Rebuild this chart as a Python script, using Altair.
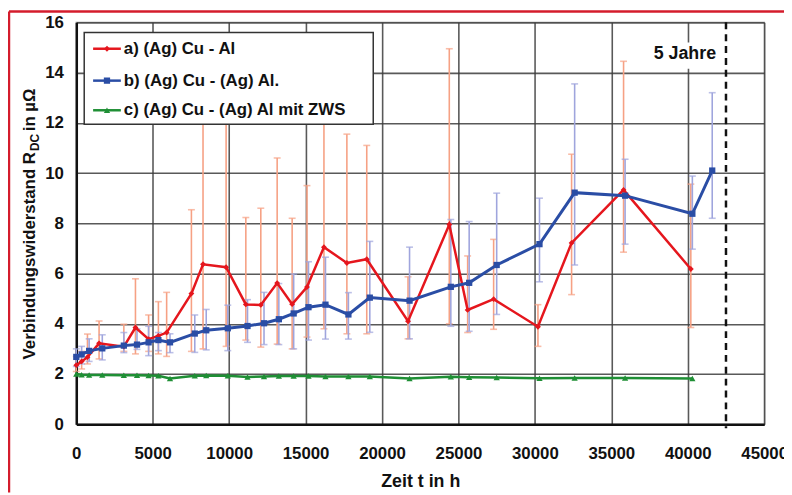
import altair as alt
import pandas as pd

# ---------------- data ----------------
# a) (Ag) Cu - Al
a_t  = [0, 350, 730, 1490, 3110, 3870, 4730, 5370, 5910, 7530, 8290, 9800, 11090, 12070,
        13140, 14120, 15090, 16200, 17700, 19000, 21700, 24400, 25600, 27300, 30200,
        32400, 35800, 40200]
a_r  = [2.35, 2.5, 2.67, 3.22, 3.09, 3.85, 3.39, 3.52, 3.65, 5.2, 6.37, 6.25, 4.77, 4.75,
        5.62, 4.78, 5.46, 7.05, 6.42, 6.57, 4.1, 7.95, 4.55, 4.98, 3.88, 7.22, 9.33, 6.18]
a_hi = [2.7, 2.9, 3.59, 4.11, 3.98, 5.79, 4.35, 4.88, 5.25, 8.54, 13.5, 14.0, 8.23, 8.6,
        10.6, 8.2, 9.5, 13.0, 11.55, 11.1, 5.87, 14.95, 6.7, 7.36, 4.76, 10.75, 14.45, 9.56]
a_lo = [2.1, 2.2, 2.4, 2.6, 2.9, 2.8, 2.9, 2.8, 2.7, 2.9, 3.0, 3.1, 3.35, 3.07,
        3.19, 3.0, 3.47, 3.8, 3.6, 3.6, 3.4, 4.0, 3.65, 3.78, 3.1, 5.16, 6.85, 3.85]

# b) (Ag) Cu - (Ag) Al.
b_t  = [0, 350, 840, 1700, 3110, 3970, 4730, 5370, 6130, 7750, 8500, 9910, 11200, 12280,
        13250, 14220, 15190, 16300, 17800, 19200, 21800, 24500, 25700, 27500, 30300,
        32600, 35900, 40300, 41600]
b_r  = [2.68, 2.78, 2.92, 3.02, 3.13, 3.17, 3.26, 3.35, 3.26, 3.61, 3.74, 3.82, 3.91, 4.02,
        4.18, 4.41, 4.66, 4.76, 4.37, 5.04, 4.92, 5.47, 5.63, 6.34, 7.17, 9.22, 9.1, 8.38, 10.1]
b_hi = [3.0, 3.1, 3.4, 3.56, 3.65, 3.8, 3.9, 3.65, 3.6, 4.35, 4.57, 4.74, 4.96, 5.25,
        5.6, 5.98, 6.47, 6.65, 5.24, 7.28, 7.05, 8.15, 8.07, 9.2, 9.0, 13.55, 10.55, 9.88, 13.2]
b_lo = [2.3, 2.4, 2.5, 2.56, 2.85, 2.98, 2.73, 2.93, 2.85, 2.86, 2.96, 2.93, 3.26, 3.17,
        3.17, 3.0, 3.35, 3.39, 3.39, 3.66, 3.4, 3.9, 3.7, 4.37, 5.67, 6.34, 7.17, 6.97, 8.2]

# c) (Ag) Cu - (Ag) Al mit ZWS
c_t  = [0, 350, 840, 1700, 3110, 3970, 4730, 5370, 6130, 7750, 8500, 9910, 11200, 12280,
        13250, 14220, 15190, 16300, 17800, 19200, 21800, 24500, 25700, 27500, 30300,
        32600, 35900, 40300]
c_r  = [2.0, 1.97, 1.96, 1.96, 1.95, 1.95, 1.94, 1.93, 1.82, 1.93, 1.94, 1.93, 1.88, 1.9,
        1.92, 1.92, 1.92, 1.9, 1.9, 1.9, 1.82, 1.89, 1.87, 1.86, 1.83, 1.84, 1.84, 1.82]

legend_labels = ["a) (Ag) Cu - Al", "b) (Ag) Cu - (Ag) Al.", "c) (Ag) Cu - (Ag) Al mit ZWS"]
x_ticks = [0, 5000, 10000, 15000, 20000, 25000, 30000, 35000, 40000, 45000]
y_ticks = [0, 2, 4, 6, 8, 10, 12, 14, 16]
five_years_h = 42500
five_years_label = "5 Jahre"
x_title = "Zeit t in h"
y_title_main = "Verbindungswiderstand R"
y_title_sub = "DC"
y_title_end = " in µΩ"

# ---------------- styling ----------------
RED, RED_ERR = "#e5161d", "#f6a184"
BLUE, BLUE_ERR = "#2a4da5", "#9fa5dd"
GREEN = "#1f8f35"
FONT = "Liberation Sans"
W, H = 695, 406

xs = alt.Scale(domain=[0, 45000], nice=False, zero=False)
ys = alt.Scale(domain=[0, 16], nice=False)
x_axis = alt.Axis(values=x_ticks, format="d", title=x_title, grid=True, ticks=False,
                  labelPadding=22, titlePadding=11, labelFlush=False)
y_axis = alt.Axis(values=y_ticks, format="d", title="", grid=True, ticks=False,
                  labelPadding=13)


def X(f):
    return alt.X(f"{f}:Q", scale=xs, axis=x_axis)


def Y(f):
    return alt.Y(f"{f}:Q", scale=ys, axis=y_axis)


df_a = pd.DataFrame({"t": a_t, "r": a_r, "hi": a_hi, "lo": a_lo})
df_b = pd.DataFrame({"t": b_t, "r": b_r, "hi": b_hi, "lo": b_lo})
df_c = pd.DataFrame({"t": c_t, "r": c_r})


def errbars(df, col):
    rule = alt.Chart(df).mark_rule(color=col, strokeWidth=1.6).encode(
        x=X("t"), y=Y("lo"), y2="hi:Q")
    cap_hi = alt.Chart(df).mark_tick(color=col, orient="horizontal", size=7, thickness=1.6).encode(
        x=X("t"), y=Y("hi"))
    cap_lo = alt.Chart(df).mark_tick(color=col, orient="horizontal", size=7, thickness=1.6).encode(
        x=X("t"), y=Y("lo"))
    return [rule, cap_hi, cap_lo]


def series(df, col, shape, size, sw):
    line = alt.Chart(df).mark_line(color=col, strokeWidth=sw).encode(x=X("t"), y=Y("r"))
    pts = alt.Chart(df).mark_point(shape=shape, filled=True, color=col, size=size, opacity=1).encode(
        x=X("t"), y=Y("r"))
    return [line, pts]


# five-year marker
df_5 = pd.DataFrame({"t": [five_years_h]})
dash = alt.Chart(df_5).mark_rule(color="#111", strokeWidth=2.5, strokeDash=[7, 5]).encode(
    x=X("t"), y=alt.value(0), y2=alt.value(H + 4))
df_5box = pd.DataFrame({"x1": [37400], "x2": [42100], "y1": [14.15], "y2": [15.2]})
box5 = alt.Chart(df_5box).mark_rect(fill="white").encode(
    x=X("x1"), x2="x2:Q", y=Y("y1"), y2="y2:Q")
df_5txt = pd.DataFrame({"t": [41850], "r": [14.74], "lab": [five_years_label]})
txt5 = alt.Chart(df_5txt).mark_text(align="right", baseline="middle", font=FONT, fontSize=18,
                                    fontWeight="bold", color="#111").encode(
    x=X("t"), y=Y("r"), text="lab:N")

# legend (drawn in the plot's own coordinates)
df_legbox = pd.DataFrame({"x1": [518], "x2": [19425], "y1": [11.94], "y2": [15.6]})
legbox = alt.Chart(df_legbox).mark_rect(fill="white", stroke="#333", strokeWidth=1.5).encode(
    x=X("x1"), x2="x2:Q", y=Y("y1"), y2="y2:Q")
df_leg = pd.DataFrame({
    "lab": legend_labels,
    "ly": [14.95, 13.68, 12.5],
    "x1": [1100] * 3, "x2": [2914] * 3, "xm": [2007] * 3, "xt": [3108] * 3,
    "col": [RED, BLUE, GREEN],
    "shp": ["diamond", "square", "triangle-up"],
    "sz": [35, 40, 40],
})
leg_line = alt.Chart(df_leg).mark_rule(strokeWidth=2.5).encode(
    x=X("x1"), x2="x2:Q", y=Y("ly"), color=alt.Color("col:N", scale=None))
leg_pt = alt.Chart(df_leg).mark_point(filled=True, opacity=1).encode(
    x=X("xm"), y=Y("ly"), color=alt.Color("col:N", scale=None),
    shape=alt.Shape("shp:N", scale=None), size=alt.Size("sz:Q", scale=None))
leg_txt = alt.Chart(df_leg).mark_text(align="left", baseline="middle", font=FONT, fontSize=17,
                                      fontWeight="bold", color="#111").encode(
    x=X("xt"), y=Y("ly"), text="lab:N")

# y-axis title with subscript
one = pd.DataFrame({"k": [0]})
yt1 = alt.Chart(one).mark_text(angle=270, align="right", baseline="alphabetic", font=FONT,
                               fontSize=17, fontWeight="bold", color="#111",
                               text=y_title_main).encode(x=alt.value(-41.5), y=alt.value(131))
yt2 = alt.Chart(one).mark_text(angle=270, align="left", baseline="alphabetic", font=FONT,
                               fontSize=12, fontWeight="bold", color="#111", dy=4,
                               text=y_title_sub).encode(x=alt.value(-41.5), y=alt.value(130))
yt3 = alt.Chart(one).mark_text(angle=270, align="left", baseline="alphabetic", font=FONT,
                               fontSize=17, fontWeight="bold", color="#111",
                               text=y_title_end).encode(x=alt.value(-41.5), y=alt.value(110))

# red frame
frame_top = alt.Chart(one).mark_rule(color="#d41c2c", strokeWidth=2.5).encode(
    x=alt.value(-68), x2=alt.value(715), y=alt.value(-11))
frame_left = alt.Chart(one).mark_rule(color="#d41c2c", strokeWidth=2.5).encode(
    x=alt.value(-68), y=alt.value(-11), y2=alt.value(475))

layers = (errbars(df_a, RED_ERR) + errbars(df_b, BLUE_ERR)
          + series(df_c, GREEN, "triangle-up", 40, 2.5)
          + series(df_a, RED, "diamond", 35, 2.5)
          + series(df_b, BLUE, "square", 40, 3)
          + [dash, box5, txt5, legbox, leg_line, leg_pt, leg_txt, yt1, yt2, yt3,
             frame_top, frame_left])

chart = alt.layer(*layers).properties(
    width=W, height=H,
    padding={"left": 69, "top": 12, "right": 20, "bottom": 69},
    autosize=alt.AutoSizeParams(type="none"),
    background="white",
).configure_view(
    stroke="#c8c8c8", strokeWidth=1.5
).configure_axis(
    labelFont=FONT, labelFontSize=17, labelFontWeight="bold", labelColor="#111",
    titleFont=FONT, titleFontSize=18, titleFontWeight="bold", titleColor="#111",
    domainColor="#111", domainWidth=2.5,
    gridColor="#3c3c3c", gridWidth=1.6, gridOpacity=0.85,
)

chart.save("out.html", embed_options={"renderer": "svg", "actions": False})
